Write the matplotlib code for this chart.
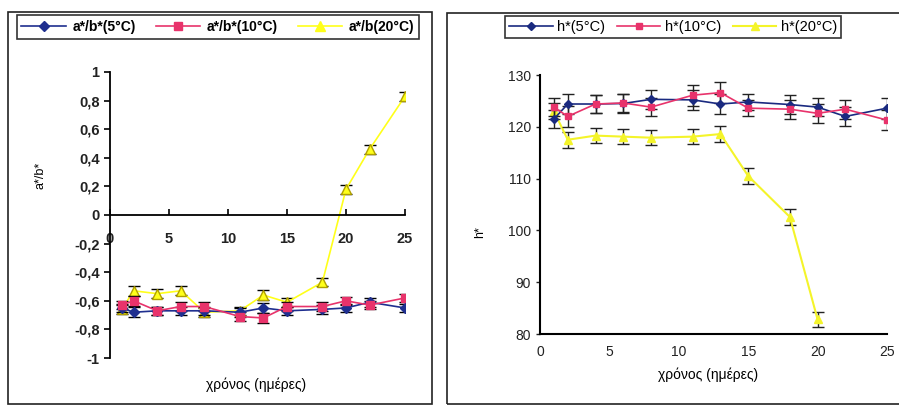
import matplotlib
matplotlib.use("Agg")
import matplotlib.pyplot as plt
from matplotlib.patches import Rectangle
from matplotlib.lines import Line2D
from matplotlib.ticker import FuncFormatter

plt.rcParams['font.family'] = ['Liberation Sans', 'DejaVu Sans']

days = [1, 2, 4, 6, 8, 11, 13, 15, 18, 20, 22, 25]

# a*/b* ratio
ab_5 = [-0.65, -0.68, -0.67, -0.67, -0.67, -0.68, -0.65, -0.67, -0.66, -0.65, -0.61, -0.65]
ab_10 = [-0.63, -0.60, -0.67, -0.64, -0.64, -0.71, -0.72, -0.64, -0.64, -0.60, -0.63, -0.58]
ab_20 = [-0.66, -0.53, -0.55, -0.53, -0.68, -0.67, -0.56, -0.61, -0.47, 0.18, 0.46, 0.83]
ab_err = [0.03, 0.035, 0.03, 0.03, 0.03, 0.03, 0.035, 0.03, 0.03, 0.03, 0.03, 0.03]

# hue angle h*
h_5 = [121.5, 124.4, 124.4, 124.5, 125.3, 125.2, 124.4, 124.8, 124.3, 123.8, 122.0, 123.6]
h_10 = [123.8, 122.0, 124.4, 124.6, 123.8, 126.1, 126.6, 123.6, 123.4, 122.6, 123.4, 121.3]
h_days_20 = [1, 2, 4, 6, 8, 11, 13, 15, 18, 20]
h_20 = [123.0, 117.5, 118.3, 118.1, 117.9, 118.1, 118.6, 110.5, 102.6, 82.8]
h_err = [1.8, 2.0, 1.8, 1.8, 1.8, 2.0, 2.0, 1.6, 1.8, 1.8, 1.8, 2.0]
h_err_20 = [1.5, 1.5, 1.5, 1.5, 1.5, 1.5, 1.5, 1.5, 1.5, 1.5]

W, H = 899, 407
fig = plt.figure(figsize=(W / 100, H / 100), dpi=100)

def box(x0, y0, x1, y1):
    # pixel coordinates from top-left
    return [x0 / W, 1 - y1 / H, (x1 - x0) / W, (y1 - y0) / H]

# panel frames
for x0, y0, x1, y1 in [(8, 12, 432, 404), (447, 13, 905, 404)]:
    l, b, w, h = box(x0, y0, x1, y1)
    fig.add_artist(Rectangle((l, b), w, h, transform=fig.transFigure,
                             fill=False, edgecolor='#222222', lw=1.2))

blue = '#1f2f8f'
pink = '#e8336b'
yellow = '#ffff1a'

# ---------- left chart ----------
ax1 = fig.add_axes(box(110, 72, 405, 358))
ax1.errorbar(days, ab_5, yerr=ab_err, color=blue, marker='D', ms=5, lw=1.2,
             ecolor='black', elinewidth=1, capsize=4, zorder=3)
ax1.errorbar(days, ab_10, yerr=ab_err, color=pink, marker='s', ms=6, lw=1.2,
             ecolor='black', elinewidth=1, capsize=4, zorder=3)
ax1.errorbar(days, ab_20, yerr=ab_err, color=yellow, marker='^', ms=7, lw=1.2,
             mec='#b0a000', ecolor='black', elinewidth=1, capsize=4, zorder=2)
ax1.set_xlim(0, 25)
ax1.set_ylim(-1, 1)
ax1.set_yticks([-1, -0.8, -0.6, -0.4, -0.2, 0, 0.2, 0.4, 0.6, 0.8, 1])
ax1.set_xticks([0, 5, 10, 15, 20, 25])
ax1.yaxis.set_major_formatter(FuncFormatter(lambda v, p: ('%g' % round(v, 1)).replace('.', ',')))
ax1.spines['bottom'].set_position(('data', 0))
ax1.spines['top'].set_visible(False)
ax1.spines['right'].set_visible(False)
ax1.spines['left'].set_linewidth(1.3)
ax1.spines['bottom'].set_linewidth(1.3)
ax1.tick_params(axis='both', labelsize=10.5, width=1.2, length=4)
ax1.tick_params(axis='x', direction='in', pad=12)
for t in ax1.get_xticklabels() + ax1.get_yticklabels():
    t.set_fontweight('bold')
    t.set_color('#222222')
fig.text(40 / W, 1 - 175 / H, 'a*/b*', rotation=90, ha='center', va='center', fontsize=9)
fig.text(256 / W, 1 - 385 / H, 'χρόνος (ημέρες)', ha='center', va='center', fontsize=10)
h1 = [Line2D([], [], color=blue, marker='D', ms=5, lw=1.2),
      Line2D([], [], color=pink, marker='s', ms=6, lw=1.2),
      Line2D([], [], color=yellow, marker='^', ms=7, lw=1.2)]
leg1 = ax1.legend(h1, ['a*/b*(5°C)', 'a*/b*(10°C)', 'a*/b(20°C)'],
                  loc='center', bbox_to_anchor=(218 / W, 1 - 27 / H),
                  bbox_transform=fig.transFigure, ncol=3,
                  frameon=True, fancybox=False, edgecolor='black',
                  handlelength=3.2, columnspacing=1.4, handletextpad=0.5,
                  borderpad=0.35, prop={'weight': 'bold', 'size': 10})
leg1.get_frame().set_linewidth(1.2)

# ---------- right chart ----------
ax2 = fig.add_axes(box(540, 75, 887, 334))
ax2.errorbar(days, h_5, yerr=h_err, color='#1a2a80', marker='D', ms=4, lw=1.2,
             ecolor='#222222', elinewidth=1, capsize=4, zorder=3)
ax2.errorbar(days, h_10, yerr=h_err, color=pink, marker='s', ms=5, lw=1.2,
             ecolor='#222222', elinewidth=1, capsize=4, zorder=3)
ax2.errorbar(h_days_20, h_20, yerr=h_err_20, color='#f4f42a', marker='^', ms=6, lw=1.5,
             ecolor='#222222', elinewidth=1, capsize=4, zorder=2)
ax2.set_xlim(0, 25)
ax2.set_ylim(80, 130)
ax2.set_xticks([0, 5, 10, 15, 20, 25])
ax2.set_yticks([80, 90, 100, 110, 120, 130])
ax2.spines['top'].set_visible(False)
ax2.spines['right'].set_visible(False)
ax2.spines['left'].set_linewidth(1.5)
ax2.spines['bottom'].set_linewidth(1.5)
ax2.tick_params(axis='both', labelsize=10, width=1, length=3, colors='#222222')
ax2.tick_params(axis='x', length=0, pad=8)
fig.text(480 / W, 1 - 232 / H, 'h*', rotation=90, ha='center', va='center', fontsize=9)
fig.text(708 / W, 1 - 375 / H, 'χρόνος (ημέρες)', ha='center', va='center', fontsize=10)
h2 = [Line2D([], [], color='#1a2a80', marker='D', ms=4, lw=1.2),
      Line2D([], [], color=pink, marker='s', ms=5, lw=1.2),
      Line2D([], [], color='#f4f42a', marker='^', ms=6, lw=1.5)]
leg2 = ax2.legend(h2, ['h*(5°C)', 'h*(10°C)', 'h*(20°C)'],
                  loc='center', bbox_to_anchor=(673 / W, 1 - 27 / H),
                  bbox_transform=fig.transFigure, ncol=3, fontsize=10.5,
                  frameon=True, fancybox=False, edgecolor='black',
                  handlelength=3, columnspacing=0.8, handletextpad=0.3,
                  borderpad=0.3)
leg2.get_frame().set_linewidth(1.2)

fig.savefig('out.png', dpi=100)
